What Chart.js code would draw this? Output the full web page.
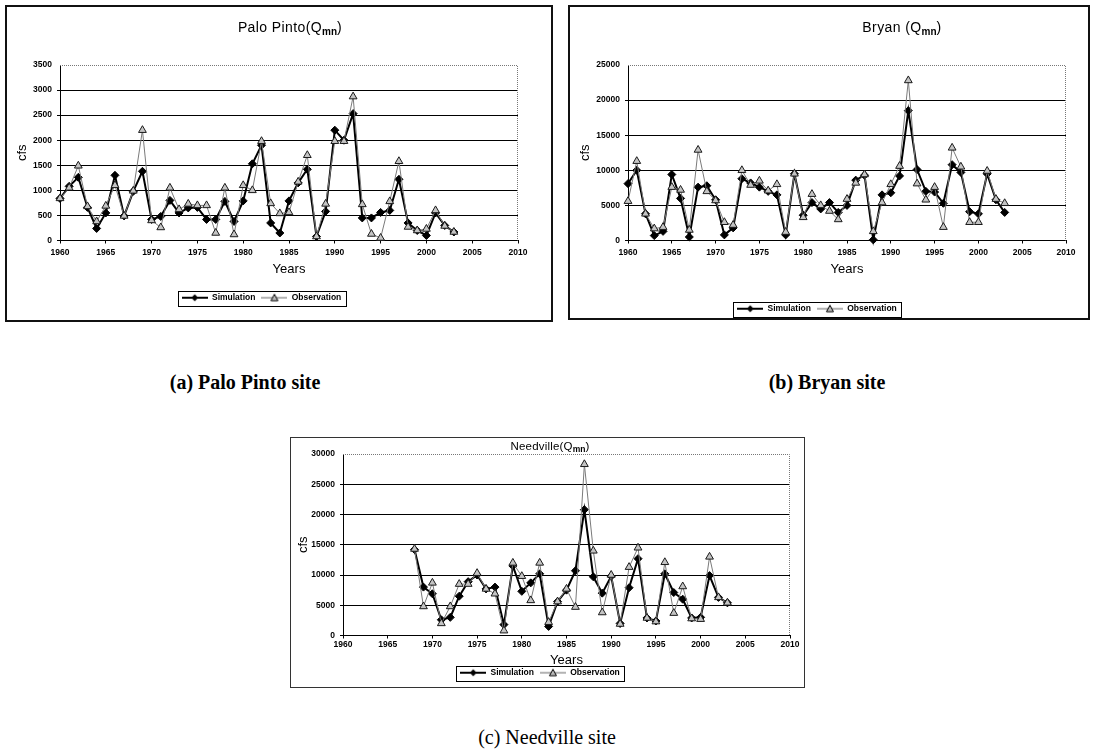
<!DOCTYPE html>
<html>
<head>
<meta charset="utf-8">
<title>Qmn simulation vs observation</title>
<script src="https://cdn.jsdelivr.net/npm/chart.js@4.4.1/dist/chart.umd.min.js"></script>
<style>
body{margin:0;width:1094px;height:753px;position:relative;overflow:hidden;background:#fff;font-family:Arial,"Liberation Sans",sans-serif;color:#000;}
canvas{position:absolute;}
.frame{position:absolute;box-sizing:border-box;pointer-events:none;}
.ttl{position:absolute;font-size:14px;line-height:16px;letter-spacing:0.4px;white-space:nowrap;transform:translateX(-50%);}
.ttl sub{font-size:10px;font-weight:bold;vertical-align:-3px;line-height:0;letter-spacing:0;}
.ttl.small{font-size:11.5px;line-height:13px;letter-spacing:0.2px;}
.ttl.small sub{font-size:8.5px;vertical-align:-2px;}
.cap{position:absolute;font-family:"Liberation Serif","Times New Roman",serif;font-size:20px;line-height:22px;white-space:nowrap;transform:translateX(-50%);}
</style>
</head>
<body>
<canvas id="cPalo"></canvas>
<canvas id="cBryan"></canvas>
<canvas id="cNeed"></canvas>

<div class="frame" style="left:5px;top:5px;width:548px;height:317px;border:2px solid #111;"></div>
<div class="frame" style="left:568px;top:5px;width:522px;height:315px;border:2px solid #111;"></div>
<div class="frame" style="left:290px;top:437px;width:515px;height:251px;border:1px solid #333;"></div>

<div class="ttl" style="left:290px;top:19px">Palo Pinto(Q<sub>mn</sub>)</div>
<div class="ttl" style="left:902px;top:19px">Bryan (Q<sub>mn</sub>)</div>
<div class="ttl small" style="left:550px;top:440px">Needville(Q<sub>mn</sub>)</div>

<div class="cap" style="left:245px;top:371px;font-weight:bold">(a) Palo Pinto site</div>
<div class="cap" style="left:827px;top:371px;font-weight:bold">(b) Bryan site</div>
<div class="cap" style="left:547px;top:726px">(c) Needville site</div>

<script>
// years on the x axis
const years = [1960,1961,1962,1963,1964,1965,1966,1967,1968,1969,
               1970,1971,1972,1973,1974,1975,1976,1977,1978,1979,
               1980,1981,1982,1983,1984,1985,1986,1987,1988,1989,
               1990,1991,1992,1993,1994,1995,1996,1997,1998,1999,
               2000,2001,2002,2003];
const needYears = [1968,1969,1970,1971,1972,1973,1974,1975,1976,1977,
                   1978,1979,1980,1981,1982,1983,1984,1985,1986,1987,
                   1988,1989,1990,1991,1992,1993,1994,1995,1996,1997,
                   1998,1999,2000,2001,2002,2003];

// Palo Pinto (cfs)
const paloSim = [840,1080,1260,660,240,550,1300,490,980,1380,
                 420,480,800,550,650,660,420,420,780,380,
                 790,1530,1900,350,150,790,1150,1420,80,580,
                 2200,2000,2530,450,450,560,600,1220,350,200,
                 100,550,300,170];
const paloObs = [840,1050,1490,680,380,690,1100,490,990,2200,
                 400,260,1050,620,730,700,700,150,1050,120,
                 1100,1000,1980,740,540,560,1170,1700,80,730,
                 1980,1980,2870,720,130,50,780,1580,270,200,
                 230,600,290,170];

// Bryan (cfs)
const bryanSim = [8100,10000,3800,700,1300,9400,6000,500,7600,7800,
                  5800,800,1800,8800,8200,7600,7000,6500,800,9500,
                  3600,5400,4500,5400,4000,5000,8600,9300,100,6500,
                  6800,9200,18500,10100,7000,6900,5300,10800,9700,4100,
                  3800,9500,5800,4000];
const bryanObs = [5600,11300,3800,1700,1900,7600,7200,1500,12900,7000,
                  5700,2600,2200,10000,7900,8500,7100,8000,1200,9500,
                  3300,6600,5000,4200,3000,5900,8200,9400,1300,5400,
                  8000,10600,22800,8100,5800,7600,1900,13200,10500,2600,
                  2600,9900,5900,5300];

// Needville (cfs)
const needSim = [14200,8000,6900,2600,3000,6500,8900,10000,7700,8000,
                 1800,11500,7300,8700,10200,1500,5600,7500,10700,20800,
                 9700,7000,9800,2000,7900,12700,2900,2400,10200,7100,
                 6000,2900,3000,9900,6300,5400];
const needObs = [14300,4800,8700,2000,4800,8500,8500,10300,7700,6900,
                 800,12000,9800,5800,12000,2200,5600,7700,4700,28300,
                 14000,3800,10000,1900,11300,14500,2900,2300,12100,3700,
                 8100,2800,2700,13000,6300,5400];

// tick labels
const yearTicks = [1960,1965,1970,1975,1980,1985,1990,1995,2000,2005,2010];
const paloTicks = [0,500,1000,1500,2000,2500,3000,3500];
const bryanTicks = [0,5000,10000,15000,20000,25000];
const needTicks = [0,5000,10000,15000,20000,25000,30000];

// legend marker: short line with the series symbol
function icon(sim){
  const c = document.createElement('canvas');
  c.width = 26; c.height = 10;
  const g = c.getContext('2d');
  g.strokeStyle = sim ? '#000' : '#666';
  g.lineWidth = sim ? 2 : 1;
  g.beginPath(); g.moveTo(0,5); g.lineTo(26,5); g.stroke();
  g.beginPath();
  if(sim){
    g.moveTo(13,1.5); g.lineTo(16.5,5); g.lineTo(13,8.5); g.lineTo(9.5,5); g.closePath();
    g.fillStyle = '#000'; g.fill();
  } else {
    g.moveTo(13,1.5); g.lineTo(16.5,8); g.lineTo(9.5,8); g.closePath();
    g.fillStyle = '#bbb'; g.fill();
    g.lineWidth = 1; g.strokeStyle = '#000'; g.stroke();
  }
  return c;
}

// dotted top/right edge of the plot, box round the legend
const decor = {
  id:'decor',
  beforeDatasetsDraw(chart){
    const {ctx, chartArea:a} = chart;
    ctx.save();
    ctx.strokeStyle = '#777'; ctx.lineWidth = 1; ctx.setLineDash([1,1]);
    ctx.beginPath();
    ctx.moveTo(a.left, Math.round(a.top)+0.5);
    ctx.lineTo(Math.round(a.right)-0.5, Math.round(a.top)+0.5);
    ctx.lineTo(Math.round(a.right)-0.5, a.bottom);
    ctx.stroke();
    ctx.restore();
  },
  afterDraw(chart){
    const hb = chart.legend.legendHitBoxes;
    if(!hb || !hb.length) return;
    const l = Math.min(...hb.map(b=>b.left)), r = Math.max(...hb.map(b=>b.left+b.width));
    const t = Math.min(...hb.map(b=>b.top)), bt = Math.max(...hb.map(b=>b.top+b.height));
    const ctx = chart.ctx;
    ctx.save();
    ctx.strokeStyle = '#000'; ctx.lineWidth = 1;
    ctx.strokeRect(Math.round(l-4)+0.5, Math.round(t-3)+0.5, Math.round(r-l+8), Math.round(bt-t+6));
    ctx.restore();
  }
};

const tickFont = {family:'Arial', size:8.5, weight:'bold'};

function drawSite(id, geo, xs, sim, obs, yTicks){
  const cv = document.getElementById(id);
  const [bx0, by0, bx1, by1] = geo.box;
  const W = bx1-bx0, H = by1-by0;
  cv.width = W; cv.height = H;
  cv.style.left = bx0+'px'; cv.style.top = by0+'px';

  const pl = geo.plot[0]-bx0, pr = geo.plot[1]-bx0, pt = geo.plot[2]-by0, pb = geo.plot[3]-by0;
  const legTop = geo.legendY-by0-10;
  const padBottom = H-legTop-24;
  const xAxisH = legTop-pb;
  const yearsPad = legTop-(geo.yearsY-by0)-7.8;
  const cfsPad = geo.cfsX-bx0-7.8;
  const yMax = yTicks[yTicks.length-1];

  new Chart(cv, {
    type:'line',
    data:{
      datasets:[
        {label:'Simulation', data:xs.map((x,i)=>({x:x, y:sim[i]})),
         borderColor:'#000', borderWidth:2, backgroundColor:'#000',
         pointStyle:'rectRot', pointRadius:4, pointBorderWidth:1,
         pointBorderColor:'#000', pointBackgroundColor:'#000', clip:false, order:1},
        {label:'Observation', data:xs.map((x,i)=>({x:x, y:obs[i]})),
         borderColor:'#7a7a7a', borderWidth:1, backgroundColor:'#c4c4c4',
         pointStyle:'triangle', pointRadius:4.5, pointBorderWidth:1,
         pointBorderColor:'#1a1a1a', pointBackgroundColor:'#c4c4c4', clip:false, order:0}
      ]
    },
    options:{
      responsive:false,
      animation:false,
      devicePixelRatio:1,
      layout:{autoPadding:false, padding:{left:0, top:pt, right:W-pr, bottom:padBottom}},
      plugins:{
        tooltip:{enabled:false},
        title:{display:false},
        legend:{
          position:'bottom',
          labels:{
            usePointStyle:true, pointStyleWidth:26, padding:6, color:'#000',
            font:{family:'Arial', size:8.5, weight:'bold'},
            generateLabels: chart => chart.data.datasets.map((d,i)=>({
              text:d.label, pointStyle:icon(i===0), datasetIndex:i, hidden:false,
              fontColor:'#000', lineWidth:0, strokeStyle:'rgba(0,0,0,0)', fillStyle:'rgba(0,0,0,0)'
            }))
          }
        }
      },
      scales:{
        x:{
          type:'linear', min:yearTicks[0], max:yearTicks[yearTicks.length-1],
          afterBuildTicks: s => { s.ticks = yearTicks.map(v=>({value:v})); },
          afterFit: s => { s.height = xAxisH; },
          grid:{display:true, drawOnChartArea:false, drawTicks:true, tickLength:3, color:'#000'},
          border:{display:true, color:'#000', width:1},
          ticks:{padding:geo.xTickPad, color:'#000', font:tickFont, maxRotation:0, autoSkip:false,
                 callback: v => String(v)},
          title:{display:true, text:'Years', color:'#000', font:{family:'Arial', size:13},
                 padding:{top:0, bottom:yearsPad}}
        },
        y:{
          min:0, max:yMax,
          afterBuildTicks: s => { s.ticks = yTicks.map(v=>({value:v})); },
          afterFit: s => { s.width = pl; },
          grid:{color: c => (c.tick && c.tick.value === yMax) ? 'rgba(0,0,0,0)' : '#000', tickLength:3, lineWidth:1},
          border:{display:true, color:'#000', width:1},
          ticks:{padding:5, color:'#000', font:tickFont, callback: v => String(v)},
          title:{display:true, text:'cfs', color:'#000', font:{family:'Arial', size:13},
                 padding:{top:cfsPad, bottom:0}}
        }
      }
    },
    plugins:[decor]
  });
}

drawSite('cPalo',
  {box:[5,5,553,322], plot:[60,518,65,241], legendY:298, yearsY:270, cfsX:22, xTickPad:4},
  years, paloSim, paloObs, paloTicks);
drawSite('cBryan',
  {box:[568,5,1090,320], plot:[628,1066,65,241], legendY:309, yearsY:270, cfsX:585, xTickPad:4},
  years, bryanSim, bryanObs, bryanTicks);
drawSite('cNeed',
  {box:[290,437,805,688], plot:[343,790,454,636], legendY:673, yearsY:661, cfsX:303, xTickPad:1},
  needYears, needSim, needObs, needTicks);
</script>
</body>
</html>
